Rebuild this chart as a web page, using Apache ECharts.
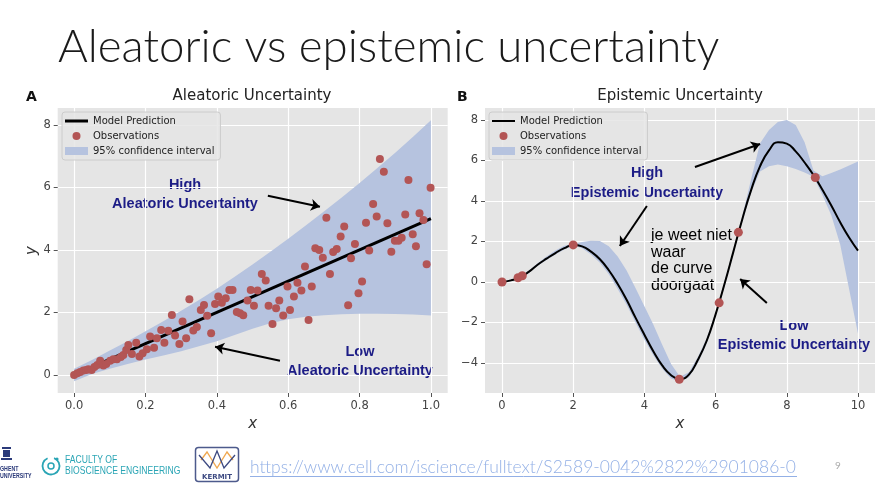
<!DOCTYPE html>
<html>
<head>
<meta charset="utf-8">
<script src="https://cdn.jsdelivr.net/npm/echarts@6/dist/echarts.min.js"></script>
<style>
html, body { margin: 0; padding: 0; background: #fff; }
#chart { width: 890px; height: 485px; }
</style>
</head>
<body>
<div id="chart"></div>
<script>
// ---- A: aleatoric ----
var aleaPredX = [0, 1];
var aleaPredY = [0, 5];
var aleaBandX = [0, 0.05, 0.1, 0.15, 0.2, 0.25, 0.3, 0.35, 0.4, 0.45, 0.5, 0.55, 0.6, 0.65, 0.7, 0.75, 0.8, 0.85, 0.9, 0.95, 1];
var aleaUpper = [0.2, 0.48, 0.78, 1.08, 1.4, 1.72, 2.05, 2.4, 2.76, 3.14, 3.53, 3.94, 4.36, 4.79, 5.23, 5.68, 6.14, 6.62, 7.11, 7.62, 8.15];
var aleaLower = [-0.2, 0.03, 0.2, 0.35, 0.49, 0.62, 0.76, 0.92, 1.08, 1.28, 1.48, 1.65, 1.78, 1.86, 1.91, 1.94, 1.96, 1.96, 1.95, 1.93, 1.9];
var aleaObsX = [0, 0.009, 0.017, 0.026, 0.034, 0.04, 0.049, 0.057, 0.065, 0.073, 0.082, 0.09, 0.101, 0.11, 0.12, 0.131, 0.138, 0.146, 0.152, 0.162,
  0.174, 0.183, 0.192, 0.204, 0.213, 0.224, 0.232, 0.244, 0.253, 0.264, 0.274, 0.283, 0.295, 0.304, 0.314, 0.323, 0.334, 0.344, 0.355, 0.364,
  0.373, 0.384, 0.395, 0.404, 0.414, 0.425, 0.435, 0.444, 0.456, 0.465, 0.474, 0.486, 0.495, 0.504, 0.514, 0.526, 0.537, 0.545, 0.556, 0.566,
  0.575, 0.586, 0.598, 0.605, 0.616, 0.626, 0.637, 0.647, 0.657, 0.666, 0.676, 0.687, 0.697, 0.707, 0.717, 0.726, 0.736, 0.747, 0.757, 0.768,
  0.776, 0.787, 0.797, 0.807, 0.818, 0.827, 0.838, 0.848, 0.857, 0.868, 0.878, 0.889, 0.899, 0.909, 0.918, 0.928, 0.937, 0.949, 0.958, 0.968,
  0.979, 0.988, 0.999];
var aleaObsY = [0, 0.05, 0.09, 0.14, 0.16, 0.18, 0.16, 0.25, 0.32, 0.45, 0.3, 0.35, 0.45, 0.5, 0.5, 0.57, 0.64, 0.8, 0.96, 0.67,
  1.03, 0.59, 0.69, 0.82, 1.23, 0.87, 1.17, 1.44, 1.03, 1.41, 1.92, 1.26, 0.99, 1.71, 1.17, 2.42, 1.42, 1.53, 2.08, 2.24,
  1.89, 1.33, 2.27, 2.51, 2.31, 2.45, 2.72, 2.72, 2.01, 1.97, 1.91, 2.38, 2.72, 2.21, 2.7, 3.23, 3.02, 2.21, 1.63, 2.13,
  2.38, 1.9, 2.83, 2.08, 2.51, 2.95, 2.7, 3.47, 1.76, 2.83, 4.05, 4.0, 3.75, 5.03, 3.23, 3.93, 4.03, 4.43, 4.75, 2.23,
  3.73, 4.19, 2.61, 2.99, 4.87, 3.98, 5.47, 5.07, 6.91, 6.5, 4.85, 3.94, 4.29, 4.29, 4.39, 5.13, 6.24, 4.5, 4.12, 5.17,
  4.96, 3.54, 5.99];
var aleaXTicks = [0, 0.2, 0.4, 0.6, 0.8, 1.0];
var aleaYTicks = [0, 2, 4, 6, 8];
var aleaArrows = [[[0.543, 5.73], [0.689, 5.38]], [[0.577, 0.45], [0.395, 0.9]]];

// ---- B: epistemic ----
var epiX = [0, 0.25, 0.5, 0.75, 1, 1.25, 1.5, 1.75, 2, 2.25, 2.5, 2.75, 3, 3.25, 3.5, 3.75, 4, 4.25, 4.5, 4.75,
  5, 5.25, 5.5, 5.75, 6, 6.25, 6.5, 6.75, 7, 7.25, 7.5, 7.75, 8, 8.25, 8.5, 8.75, 9, 9.25, 9.5, 9.75, 10];
var epiPred = [0, 0.08, 0.22, 0.5, 0.85, 1.15, 1.43, 1.67, 1.83, 1.76, 1.5, 1.12, 0.58, -0.1, -0.88, -1.76, -2.6, -3.42, -4.12, -4.6,
  -4.8, -4.57, -3.85, -2.9, -1.6, -0.1, 1.5, 3.1, 4.55, 5.72, 6.5, 6.9, 6.83, 6.45, 5.9, 5.28, 4.55, 3.78, 2.95, 2.2, 1.55];
var epiUpper = [0.03, 0.12, 0.27, 0.56, 0.93, 1.26, 1.56, 1.79, 1.87, 1.98, 2.04, 2.02, 1.77, 1.26, 0.57, -0.3, -1.2, -2.1, -3.1, -4.05,
  -4.68, -4.46, -3.72, -2.78, -1.5, 0.02, 1.62, 3.25, 5.1, 6.85, 7.5, 7.9, 8.0, 7.75, 6.9, 5.5, 5.22, 5.38, 5.55, 5.75, 5.95];
var epiLower = [-0.03, 0.04, 0.18, 0.45, 0.8, 1.08, 1.36, 1.6, 1.8, 1.66, 1.36, 0.95, 0.38, -0.35, -1.12, -2.0, -2.85, -3.62, -4.28, -4.76,
  -4.93, -4.7, -4.0, -3.05, -1.72, -0.22, 1.38, 2.97, 4.42, 5.45, 5.72, 5.8, 5.72, 5.58, 5.4, 5.2, 4.3, 3.3, 1.85, -0.35, -2.55];
var epiObsX = [0, 0.45, 0.57, 2.0, 4.98, 6.1, 6.64, 8.8];
var epiObsY = [0, 0.21, 0.31, 1.83, -4.8, -1.03, 2.45, 5.16];
var epiXTicks = [0, 2, 4, 6, 8, 10];
var epiYTicks = [-4, -2, 0, 2, 4, 6, 8];
var epiArrows = [[[5.42, 5.68], [7.25, 6.81]], [[4.07, 3.75], [3.31, 1.78]], [[7.44, -1.04], [6.69, 0.15]]];

var bandColor = '#b6c3df';
var dotColor = '#b35555';
var navy = '#1c1c86';
var teal = '#2aa5b5';
var tickFont = 'DejaVu Sans';

function pairs(xs, ys) {
  return xs.map(function (x, i) { return [x, ys[i]]; });
}

function bandRender(xs, lo, hi) {
  return function (params, api) {
    if (params.dataIndex !== 0) return null;
    var pts = [];
    for (var i = 0; i < xs.length; i++) pts.push(api.coord([xs[i], hi[i]]));
    for (var j = xs.length - 1; j >= 0; j--) pts.push(api.coord([xs[j], lo[j]]));
    return { type: 'polygon', shape: { points: pts }, style: { fill: bandColor } };
  };
}

function makeAxis(grid, min, max, ticks, fmt, name, gap) {
  return {
    type: 'value', gridIndex: grid, min: min, max: max,
    axisLine: { show: false, onZero: false },
    axisTick: { show: true, customValues: ticks, length: 4, lineStyle: { color: '#555' } },
    axisLabel: { customValues: ticks, formatter: fmt, fontFamily: tickFont, fontSize: 11.5, color: '#444', margin: 7 },
    splitLine: { show: true, lineStyle: { color: '#fff', width: 1.2 } },
    name: name, nameLocation: 'middle', nameGap: gap,
    nameTextStyle: { fontFamily: tickFont, fontStyle: 'italic', fontSize: 15, color: '#333' }
  };
}

function minusFmt(v) { return v < 0 ? '\u2212' + Math.abs(v) : String(v); }

function arrowLines(list) {
  return {
    silent: true, symbol: ['none', 'arrow'], symbolSize: 9,
    lineStyle: { color: '#000', width: 2, type: 'solid' },
    label: { show: false }, emphasis: { disabled: true },
    data: list.map(function (a) { return [{ coord: a[0] }, { coord: a[1] }]; })
  };
}

function legendFor(left, sfx, lw) {
  return {
    left: left, top: 112, orient: 'vertical', selectedMode: false,
    padding: [3, 6, 3, 3], itemGap: 3, itemWidth: 23, itemHeight: 8,
    backgroundColor: 'rgba(229,229,229,0.85)', borderColor: '#cccccc', borderWidth: 1, borderRadius: 3,
    textStyle: { fontFamily: tickFont, fontSize: 10, color: '#222', lineHeight: 12 },
    formatter: function (n) { return n.trim(); },
    data: [
      { name: 'Model Prediction' + sfx, icon: 'path://M0,0 L23,0 L23,' + lw + ' L0,' + lw + ' Z' },
      { name: 'Observations' + sfx, icon: 'circle' },
      { name: '95% confidence interval' + sfx, icon: 'rect' }
    ]
  };
}

function txt(x, y, s, font, fill, align, sx) {
  return { type: 'text', x: x, y: y, scaleX: sx || 1, silent: true,
    style: { text: s, font: font, fill: fill, align: align || 'left', textAlign: align || 'left',
      verticalAlign: 'middle', textVerticalAlign: 'middle' } };
}

var chart = echarts.init(document.getElementById('chart'));
chart.setOption({
  animation: false,
  backgroundColor: '#ffffff',
  grid: [
    { left: 57.7, top: 108, width: 390, height: 285, show: true, backgroundColor: '#e5e5e5', borderWidth: 0 },
    { left: 485, top: 108, width: 390, height: 285, show: true, backgroundColor: '#e5e5e5', borderWidth: 0 }
  ],
  xAxis: [
    makeAxis(0, -0.046, 1.047, aleaXTicks, function (v) { return v.toFixed(1); }, 'x', 24),
    makeAxis(1, -0.478, 10.478, epiXTicks, minusFmt, 'x', 24)
  ],
  yAxis: [
    makeAxis(0, -0.58, 8.54, aleaYTicks, minusFmt, 'y', 18),
    makeAxis(1, -5.48, 8.59, epiYTicks, minusFmt, '', 18)
  ],
  legend: [legendFor(62, '', 3), legendFor(489, ' ', 2)],
  series: [
    {
      type: 'custom', name: '95% confidence interval', xAxisIndex: 0, yAxisIndex: 0, z: 1, silent: true,
      itemStyle: { color: bandColor },
      renderItem: bandRender(aleaBandX, aleaLower, aleaUpper),
      encode: { x: 0, y: [1, 2] },
      data: aleaBandX.map(function (x, i) { return [x, aleaLower[i], aleaUpper[i]]; })
    },
    {
      type: 'line', name: 'Model Prediction', xAxisIndex: 0, yAxisIndex: 0, z: 2,
      symbol: 'none', lineStyle: { color: '#000', width: 3 }, itemStyle: { color: '#000' },
      data: pairs(aleaPredX, aleaPredY),
      markLine: arrowLines(aleaArrows)
    },
    {
      type: 'scatter', name: 'Observations', xAxisIndex: 0, yAxisIndex: 0, z: 3,
      symbolSize: 8, itemStyle: { color: dotColor, opacity: 1 },
      data: pairs(aleaObsX, aleaObsY)
    },
    {
      type: 'custom', name: '95% confidence interval ', xAxisIndex: 1, yAxisIndex: 1, z: 1, silent: true,
      itemStyle: { color: bandColor },
      renderItem: bandRender(epiX, epiLower, epiUpper),
      encode: { x: 0, y: [1, 2] },
      data: epiX.map(function (x, i) { return [x, epiLower[i], epiUpper[i]]; })
    },
    {
      type: 'line', name: 'Model Prediction ', xAxisIndex: 1, yAxisIndex: 1, z: 2, smooth: 0.5,
      symbol: 'none', lineStyle: { color: '#000', width: 2 }, itemStyle: { color: '#000' },
      data: pairs(epiX, epiPred),
      markLine: arrowLines(epiArrows)
    },
    {
      type: 'scatter', name: 'Observations ', xAxisIndex: 1, yAxisIndex: 1, z: 3,
      symbolSize: 9, itemStyle: { color: dotColor, opacity: 1 },
      data: pairs(epiObsX, epiObsY)
    }
  ],
  graphic: [
    txt(58, 47, 'Aleatoric vs epistemic uncertainty', '300 45.6px Lato', '#1a1a1a'),
    txt(26, 97, 'A', 'bold 14px "DejaVu Sans"', '#111'),
    txt(457, 97, 'B', 'bold 14px "DejaVu Sans"', '#111'),
    txt(252, 96, 'Aleatoric Uncertainty', '15px "DejaVu Sans"', '#222', 'center'),
    txt(680, 96, 'Epistemic Uncertainty', '15px "DejaVu Sans"', '#222', 'center'),
    txt(185, 185, 'High', 'bold 14.5px "Liberation Sans"', navy, 'center'),
    txt(185, 204, 'Aleatoric Uncertainty', 'bold 14.5px "Liberation Sans"', navy, 'center'),
    txt(360, 352, 'Low', 'bold 14.5px "Liberation Sans"', navy, 'center'),
    txt(360, 371, 'Aleatoric Uncertainty', 'bold 14.5px "Liberation Sans"', navy, 'center'),
    txt(647, 173, 'High', 'bold 14.5px "Liberation Sans"', navy, 'center'),
    txt(647, 193, 'Epistemic Uncertainty', 'bold 14.5px "Liberation Sans"', navy, 'center'),
    txt(794, 326, 'Low', 'bold 14.5px "Liberation Sans"', navy, 'center'),
    txt(794, 345, 'Epistemic Uncertainty', 'bold 14.5px "Liberation Sans"', navy, 'center'),
    txt(651, 236, 'je weet niet', '16px "Liberation Sans"', '#000'),
    txt(651, 252.5, 'waar', '16px "Liberation Sans"', '#000'),
    txt(651, 269, 'de curve', '16px "Liberation Sans"', '#000'),
    txt(651, 285.5, 'doorgaat', '16px "Liberation Sans"', '#000'),
    // footer: logos, link, page number
    { type: 'rect', shape: { x: 2, y: 447, width: 9, height: 2 }, style: { fill: '#2b3a7a' } },
    { type: 'rect', shape: { x: 3, y: 450, width: 7, height: 7 }, style: { fill: '#2b3a7a' } },
    { type: 'rect', shape: { x: 1, y: 458, width: 11, height: 2 }, style: { fill: '#2b3a7a' } },
    txt(0, 469, 'GHENT', 'bold 7px "Liberation Sans"', '#2b3a7a', 'left', 0.75),
    txt(0, 476, 'UNIVERSITY', 'bold 7px "Liberation Sans"', '#2b3a7a', 'left', 0.75),
    { type: 'arc', shape: { cx: 51, cy: 466, r: 8.5, startAngle: -1.2, endAngle: 4.3 }, style: { stroke: teal, lineWidth: 1.8, fill: null } },
    { type: 'circle', shape: { cx: 51, cy: 466, r: 3 }, style: { stroke: teal, lineWidth: 1.5, fill: null } },
    { type: 'circle', shape: { cx: 57, cy: 459, r: 1.6 }, style: { fill: teal } },
    txt(65, 460, 'FACULTY OF', '11px "Liberation Sans"', teal, 'left', 0.78),
    txt(65, 471, 'BIOSCIENCE ENGINEERING', '11px "Liberation Sans"', teal, 'left', 0.78),
    { type: 'rect', shape: { x: 195.5, y: 447.5, width: 43, height: 34, r: 3 }, style: { fill: '#fff', stroke: '#4d5a8c', lineWidth: 1.5 } },
    { type: 'polyline', shape: { points: [[201, 460], [207, 452], [217, 468], [227, 452], [233, 460]] }, style: { stroke: '#f0a850', lineWidth: 1.3, fill: null } },
    { type: 'polyline', shape: { points: [[199, 455], [210, 468], [217, 451], [224, 468], [235, 455]] }, style: { stroke: '#3d4a82', lineWidth: 1.3, fill: null } },
    txt(217, 477, 'KERMIT', 'bold 7px "DejaVu Sans"', '#3d4a82', 'center'),
    txt(250, 467, 'https://www.cell.com/iscience/fulltext/S2589-0042%2822%2901086-0', '300 17.5px Lato', '#93b0e6'),
    { type: 'line', shape: { x1: 250, y1: 476.5, x2: 797, y2: 476.5 }, style: { stroke: '#93b0e6', lineWidth: 1 } },
    txt(838, 466, '9', '10px Lato', '#aaaaaa', 'center')
  ]
});
</script>
</body>
</html>
